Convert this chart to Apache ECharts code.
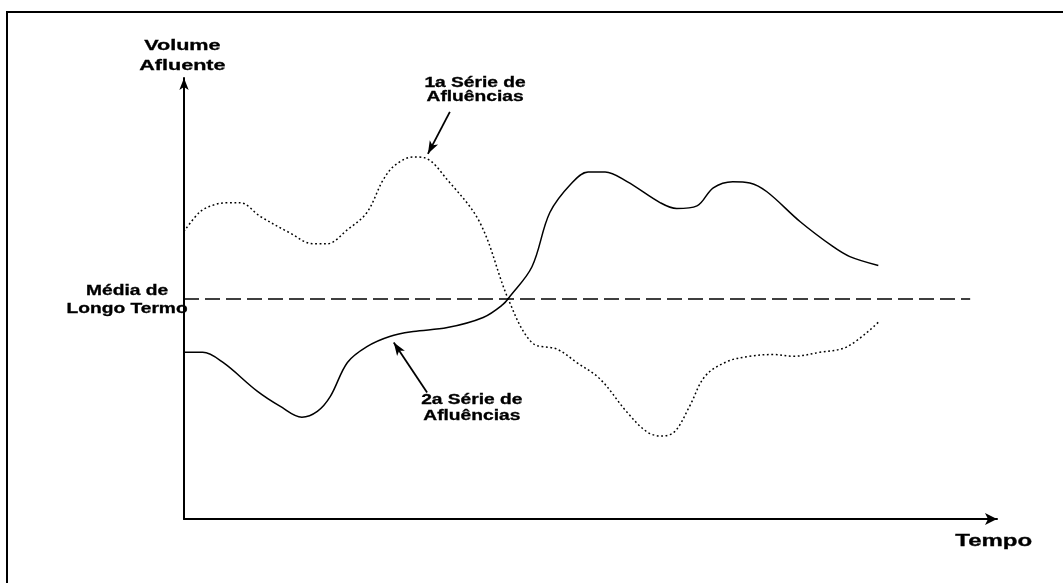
<!DOCTYPE html>
<html>
<head>
<meta charset="utf-8">
<script src="https://cdn.jsdelivr.net/npm/echarts@6/dist/echarts.min.js"></script>
<style>html,body{margin:0;padding:0;background:#fff}#c{width:1063px;height:583px}</style>
</head>
<body>
<div id="c"></div>
<script>
// 1a Série de Afluências (dotted) : time / volume
const serie1Tempo = [0, 2.0, 3.8, 5.3, 6.9, 9.4, 13.0, 15.9, 17.6, 20.1, 22.5, 24.5, 26.0, 28.2, 29.6, 32.4, 36.4, 39.9, 42.8, 45.9, 48.3, 51.2, 54.5, 57.0, 58.8, 60.4, 62.2, 64.1, 66.8, 69.6, 72.5, 74.9, 78.2, 81.6, 85.4];
const serie1Volume = [65.2, 69.7, 71.3, 71.7, 71.7, 68.6, 64.9, 62.4, 62.4, 65.6, 69.5, 76.9, 80.3, 82.1, 81.9, 76.9, 67.2, 49.8, 40.0, 38.5, 35.5, 31.7, 24.2, 19.7, 18.8, 19.9, 25.6, 32.4, 35.7, 36.9, 37.3, 36.9, 37.8, 39.1, 44.6];
// 2a Série de Afluências (solid)
const serie2Tempo = [0, 2.3, 4.8, 9.0, 11.8, 14.5, 16.4, 18.0, 20.1, 22.5, 25.3, 28.2, 32.4, 36.8, 39.2, 40.1, 42.8, 45.0, 47.7, 49.7, 51.8, 54.5, 58.6, 60.6, 63.1, 65.1, 67.5, 69.6, 71.7, 75.8, 79.8, 81.9, 85.4];
const serie2Volume = [37.8, 37.8, 35.5, 29.0, 25.6, 23.1, 24.4, 27.8, 35.5, 39.1, 41.4, 42.5, 43.4, 45.7, 48.6, 50.5, 57.2, 69.5, 76.2, 78.7, 78.7, 76.5, 71.7, 70.4, 71.0, 75.1, 76.5, 76.2, 74.2, 67.4, 61.8, 59.5, 57.5];
// Média de Longo Termo
const mediaLongoTermo = 50;
const mediaFim = 96.7;
// texts
const nomeEixoY = ['Volume', 'Afluente'];
const nomeEixoX = 'Tempo';
const textoMedia = ['Média de', 'Longo Termo'];
const textoSerie1 = ['1a Série de', 'Afluências'];
const textoSerie2 = ['2a Série de', 'Afluências'];
// annotation anchors (data units)
const seta1 = [[32.7, 92.3], [30.0, 82.8]];
const seta2 = [[29.9, 28.7], [25.8, 40.0]];
const posTexto1 = [[35.8, 98.9], [35.8, 95.6]];
const posTexto2 = [[35.4, 26.9], [35.4, 23.3]];
const posTextoMedia = [[-7.0, 51.6], [-7.0, 47.7]];
const posNomeY = [[-0.2, 107.4], [-0.2, 102.7]];
const posNomeX = [[99.6, -5.2]];

const zip = (a, b) => a.map((t, i) => [t, b[i]]);
const chart = echarts.init(document.getElementById('c'), null, {renderer: 'canvas'});
const FONT = 'bold 14px "Liberation Sans", Arial, sans-serif';

chart.setOption({
  animation: false,
  backgroundColor: '#fff',
  grid: {left: 184, right: 66, top: 78, bottom: 64, containLabel: false},
  xAxis: {
    type: 'value', min: 0, max: 100,
    axisLine: {show: true, onZero: false, symbol: ['none', 'arrow'], symbolSize: [9, 12], lineStyle: {color: '#000', width: 2}},
    axisTick: {show: false}, axisLabel: {show: false}, splitLine: {show: false}
  },
  yAxis: {
    type: 'value', min: 0, max: 100,
    axisLine: {show: true, onZero: false, symbol: ['none', 'arrow'], symbolSize: [7, 12], lineStyle: {color: '#000', width: 2}},
    axisTick: {show: false}, axisLabel: {show: false}, splitLine: {show: false}
  },
  series: [
    {
      type: 'line', name: '1a Série de Afluências', data: zip(serie1Tempo, serie1Volume),
      smooth: 0.35, symbol: 'none',
      lineStyle: {color: '#000', width: 1.5, type: [1.8, 2.6]}
    },
    {
      type: 'line', name: '2a Série de Afluências', data: zip(serie2Tempo, serie2Volume),
      smooth: 0.35, symbol: 'none',
      lineStyle: {color: '#000', width: 1.5, type: 'solid'},
      markLine: {
        silent: true, animation: false, symbol: ['none', 'none'], label: {show: false},
        data: [
          [{coord: [0, mediaLongoTermo], lineStyle: {color: '#000', width: 1.6, type: [15, 6]}}, {coord: [mediaFim, mediaLongoTermo]}],
          [{coord: seta1[0], symbol: 'none', lineStyle: {color: '#000', width: 1.8, type: 'solid'}}, {coord: seta1[1], symbol: 'arrow', symbolSize: [7, 13]}],
          [{coord: seta2[0], symbol: 'none', lineStyle: {color: '#000', width: 1.8, type: 'solid'}}, {coord: seta2[1], symbol: 'arrow', symbolSize: [7, 13]}]
        ]
      }
    }
  ]
});

function px(p) { return chart.convertToPixel({gridIndex: 0}, p); }
function txt(lines, anchors, font, sx) {
  return lines.map((s, i) => {
    const p = px(anchors[i]);
    return {type: 'text', x: p[0], y: p[1], scaleX: sx, silent: true,
      style: {text: s, font: font, fill: '#000', textAlign: 'center', textVerticalAlign: 'middle', stroke: '#000', lineWidth: 0.3}};
  });
}
const W = 1063, H = 583;
chart.setOption({
  graphic: [
    {type: 'polyline', silent: true, shape: {points: [[7, H], [7, 12], [W, 12]]}, style: {stroke: '#000', lineWidth: 2, fill: null}},
    ...txt(nomeEixoY, posNomeY, 'bold 15px "Liberation Sans", Arial, sans-serif', 1.44),
    ...txt([nomeEixoX], posNomeX, 'bold 16px "Liberation Sans", Arial, sans-serif', 1.5),
    ...txt(textoMedia, posTextoMedia, FONT, 1.37),
    ...txt(textoSerie1, posTexto1, FONT, 1.37),
    ...txt(textoSerie2, posTexto2, FONT, 1.37)
  ]
});
</script>
</body>
</html>
